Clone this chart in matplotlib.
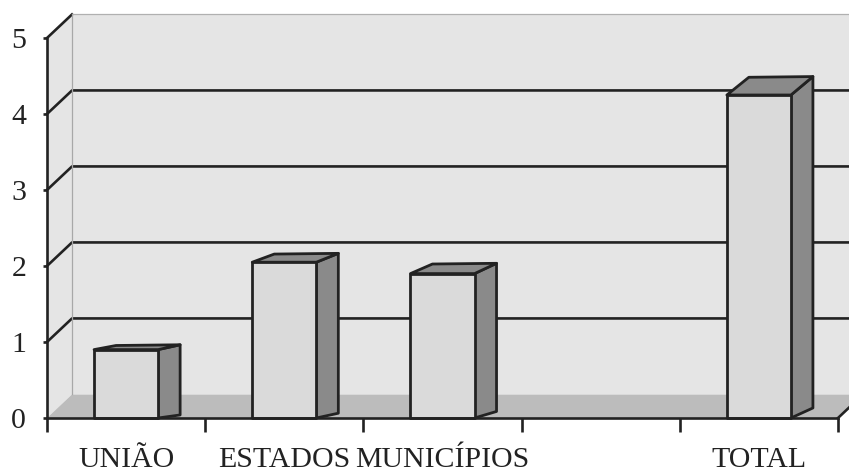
import numpy as np
import matplotlib
matplotlib.use("Agg")
import matplotlib.pyplot as plt
from matplotlib.patches import Polygon, Rectangle

plt.rcParams['font.family'] = ['Liberation Serif', 'DejaVu Serif']

# data
categories = ["UNIÃO", "ESTADOS", "MUNICÍPIOS", "", "TOTAL"]
values = [0.9, 2.05, 1.9, np.nan, 4.25]
yticks = [0, 1, 2, 3, 4, 5]

# style / geometry
wallColor = "#e5e5e5"
floorColor = "#bcbcbc"
frontColor = "#dadada"
sideColor = "#8a8a8a"
edgeColor = "#222222"
wallDx, wallDy = 0.158, 0.31    # offset of the back wall (data units)
barDx = 0.139                   # bar depth (data units)
barW = 0.405

def barDy(x, y):
    # fake perspective: deeper rise on the right and higher up
    return 0.04 + 0.023 * (x - 0.7) + 0.026 * y

nCat = len(categories)
ymax = yticks[-1]

px = 1 / 100
fig = plt.figure(figsize=(849 * px, 472 * px), dpi=100)
ax = fig.add_axes([47 / 849, 54 / 472, 791 / 849, 380 / 472])
ax.set_xlim(0, nCat)
ax.set_ylim(0, ymax)
ax.patch.set_visible(False)

# walls and floor
ax.add_patch(Polygon([(wallDx, wallDy), (nCat + 1, wallDy), (nCat + 1, ymax + wallDy), (wallDx, ymax + wallDy)],
                     closed=True, fc=wallColor, ec="none", clip_on=False, zorder=0))
ax.add_patch(Polygon([(0, 0), (wallDx, wallDy), (wallDx, ymax + wallDy), (0, ymax)],
                     closed=True, fc=wallColor, ec="none", clip_on=False, zorder=0))
ax.add_patch(Polygon([(0, 0), (nCat, 0), (nCat + wallDx, wallDy), (wallDx, wallDy)],
                     closed=True, fc=floorColor, ec="none", clip_on=False, zorder=1))

# grid lines
for k in yticks[1:-1]:
    ax.plot([0, wallDx, nCat + 1], [k, k + wallDy, k + wallDy], color=edgeColor, lw=1.9, clip_on=False, zorder=2)
ax.plot([0, wallDx], [ymax, ymax + wallDy], color=edgeColor, lw=1.9, clip_on=False, zorder=2)
ax.plot([wallDx, nCat + 1], [ymax + wallDy, ymax + wallDy], color="#b0b0b0", lw=0.9, clip_on=False, zorder=2)
ax.plot([wallDx, wallDx], [wallDy, ymax + wallDy], color="#a8a8a8", lw=0.9, clip_on=False, zorder=2)
ax.plot([nCat, nCat + wallDx], [0, wallDy], color=edgeColor, lw=1.9, clip_on=False, zorder=2)

# bars
for i, v in enumerate(values):
    if np.isnan(v):
        continue
    x0 = i + 0.5 - barW / 2
    x1 = x0 + barW
    side = [(x1, 0), (x1 + barDx, barDy(x1, 0)), (x1 + barDx, v + barDy(x1, v)), (x1, v)]
    top = [(x0, v), (x1, v), (x1 + barDx, v + barDy(x1, v)), (x0 + barDx, v + barDy(x0, v))]
    ax.add_patch(Polygon(side, closed=True, fc=sideColor, ec=edgeColor, lw=2.0, joinstyle="round", clip_on=False, zorder=3))
    ax.add_patch(Polygon(top, closed=True, fc=sideColor, ec=edgeColor, lw=2.0, joinstyle="round", clip_on=False, zorder=3))
    ax.add_patch(Rectangle((x0, 0), barW, v, fc=frontColor, ec=edgeColor, lw=2.0, joinstyle="round", clip_on=False, zorder=4))

# axes
for s in ["top", "right"]:
    ax.spines[s].set_visible(False)
for s in ["left", "bottom"]:
    ax.spines[s].set_linewidth(1.9)
    ax.spines[s].set_color(edgeColor)
    ax.spines[s].set_zorder(5)

ax.set_yticks(yticks)
ax.set_yticklabels([str(t) for t in yticks])
ax.tick_params(axis="y", length=3, width=1.9, color=edgeColor, pad=12, labelsize=21.5, labelcolor=edgeColor)

ax.set_xticks(np.arange(nCat + 1))
ax.set_xticklabels([])
ax.set_xticks(np.arange(nCat) + 0.5, minor=True)
ax.set_xticklabels(categories, minor=True)
ax.tick_params(axis="x", which="major", length=10, width=1.9, color=edgeColor)
ax.tick_params(axis="x", which="minor", length=0, pad=21, labelsize=21.5, labelcolor=edgeColor)

plt.savefig("out.png", dpi=100)
